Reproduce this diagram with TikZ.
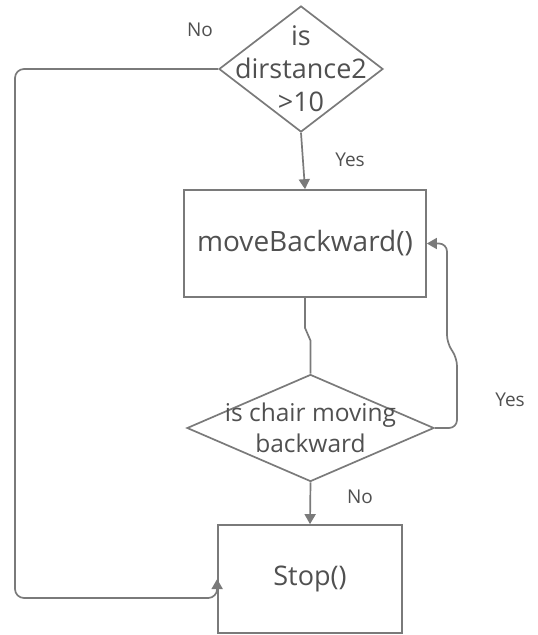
\documentclass[tikz,border=0pt]{standalone}
\usepackage{fontspec}
\setmainfont{Open Sans}
\usetikzlibrary{shapes.geometric,arrows.meta,calc}
\definecolor{linegray}{HTML}{7A7A7A}
\definecolor{textgray}{HTML}{505050}

\begin{document}
\begin{tikzpicture}[x=1pt,y=-1pt,
  ln/.style={draw=linegray, line width=1.7pt},
  arr/.style={ln, -{Triangle[width=11pt,length=10pt]}},
  decision/.style={diamond, ln, inner sep=0pt, text=textgray, align=center},
  procbox/.style={rectangle, ln, inner sep=0pt, text=textgray, align=center},
  lbl/.style={text=textgray, font=\fontsize{19}{22}\selectfont, inner sep=0pt}]
\useasboundingbox (0,0) rectangle (538,635);

% decisions and process boxes
\node[decision, minimum width=164pt, minimum height=126pt] (d1) at (301,69) {};
\node[text=textgray, align=center, inner sep=0pt, font=\fontsize{27}{33}\selectfont] (t1) at (d1.center) {is\\dirstance2\\>10};

\node[procbox, minimum width=242pt, minimum height=107pt,
      font=\fontsize{28}{32}\selectfont] (mb) at (305,243.5) {moveBackward()};

\node[decision, minimum width=247pt, minimum height=107pt] (d2) at (310.5,428) {};
\node[text=textgray, align=center, inner sep=0pt, font=\fontsize{24.5}{31}\selectfont] (t2) at (d2.center) {is chair moving\\backward};

\node[procbox, minimum width=184pt, minimum height=108pt,
      font=\fontsize{27}{32}\selectfont] (st) at (310,579) {Stop()};

% connectors
\draw[arr] (d1.south) -- (mb.north);
\draw[ln] (mb.south) -- ++(0,30) -- ($(d2.north)+(0,-33)$) -- (d2.north);
\draw[arr, rounded corners=8pt] (d2.east) -| (457,358) -- (447,343) |- (mb.east);
\draw[arr] (d2.south) -- (st.north);
\draw[arr, rounded corners=9pt] (d1.west) -| (15,598) -| (st.west);

% branch labels
\node[lbl] (l1) at (200,30) {No};
\node[lbl] (l2) at (350,160) {Yes};
\node[lbl] (l3) at (510,400) {Yes};
\node[lbl] (l4) at (360,497) {No};
\end{tikzpicture}
\end{document}
